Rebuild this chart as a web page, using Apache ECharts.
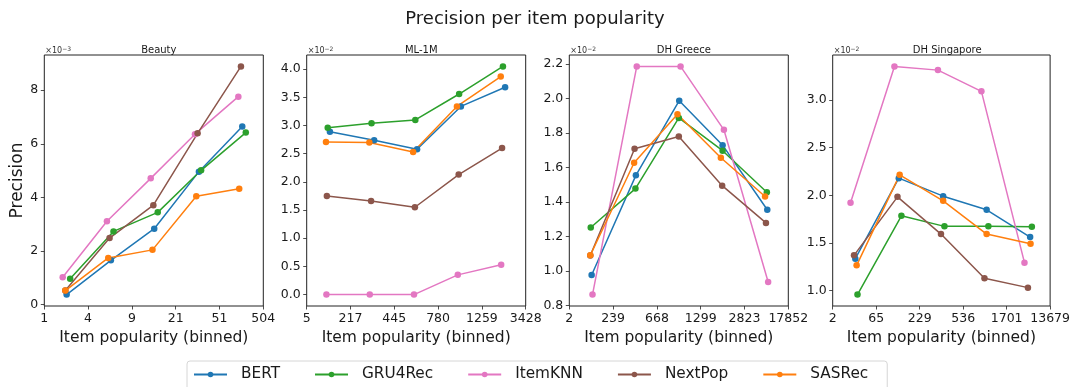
<!DOCTYPE html>
<html>
<head>
<meta charset="utf-8">
<title>Precision per item popularity</title>
<script src="https://cdn.jsdelivr.net/npm/echarts@6/dist/echarts.min.js"></script>
<style>
  html, body { margin: 0; padding: 0; background: #fff; }
  #chart { width: 1073px; height: 387px; }
</style>
</head>
<body>
<div id="chart"></div>
<script>
// Models, in legend order
const models = ['BERT', 'GRU4Rec', 'ItemKNN', 'NextPop', 'SASRec'];
const modelColors = ['#1f77b4', '#2ca02c', '#e377c2', '#8c564b', '#ff7f0e'];

// Dataset panels
const datasets = ['Beauty', 'ML-1M', 'DH Greece', 'DH Singapore'];
const exponents = [-3, -2, -2, -2];

// Bin edge labels on the x axis (one per bin boundary)
const binLabelsBeauty = ['1', '4', '9', '21', '51', '504'];
const binLabelsML1M = ['5', '217', '445', '780', '1259', '3428'];
const binLabelsGreece = ['2', '239', '668', '1299', '2823', '17852'];
const binLabelsSingapore = ['2', '65', '229', '536', '1701', '13679'];

// y tick values (in units of 10^exponent)
const yTicksBeauty = [0, 2, 4, 6, 8];
const yTicksML1M = [0, 0.5, 1, 1.5, 2, 2.5, 3, 3.5, 4];
const yTicksGreece = [0.8, 1.0, 1.2, 1.4, 1.6, 1.8, 2.0, 2.2];
const yTicksSingapore = [1.0, 1.5, 2.0, 2.5, 3.0];
const yDecimals = [0, 1, 1, 1];

// Beauty: bin position (jittered within each bin) and precision (x10^-3)
const beautyX = {
  BERT:    [0.51, 1.52, 2.51, 3.53, 4.52],
  GRU4Rec: [0.59, 1.58, 2.59, 3.58, 4.60],
  ItemKNN: [0.42, 1.43, 2.43, 3.44, 4.43],
  NextPop: [0.48, 1.49, 2.49, 3.50, 4.49],
  SASRec:  [0.48, 1.46, 2.47, 3.47, 4.45]
};
const beautyY = {
  BERT:    [0.37, 1.65, 2.83, 4.96, 6.65],
  GRU4Rec: [0.96, 2.73, 3.44, 5.01, 6.42],
  ItemKNN: [1.02, 3.11, 4.71, 6.36, 7.76],
  NextPop: [0.52, 2.48, 3.71, 6.39, 8.89],
  SASRec:  [0.52, 1.74, 2.04, 4.04, 4.32]
};

// ML-1M (x10^-2)
const ml1mX = {
  BERT:    [0.53, 1.54, 2.52, 3.52, 4.53],
  GRU4Rec: [0.48, 1.48, 2.48, 3.48, 4.48],
  ItemKNN: [0.45, 1.44, 2.45, 3.45, 4.44],
  NextPop: [0.46, 1.47, 2.47, 3.47, 4.46],
  SASRec:  [0.44, 1.43, 2.43, 3.43, 4.43]
};
const ml1mY = {
  BERT:    [2.89, 2.74, 2.58, 3.34, 3.68],
  GRU4Rec: [2.96, 3.04, 3.10, 3.56, 4.05],
  ItemKNN: [0.00, 0.00, 0.00, 0.35, 0.53],
  NextPop: [1.75, 1.66, 1.55, 2.13, 2.60],
  SASRec:  [2.71, 2.70, 2.53, 3.34, 3.87]
};

// DH Greece (x10^-2)
const greeceX = {
  BERT:    [0.51, 1.52, 2.51, 3.50, 4.52],
  GRU4Rec: [0.49, 1.51, 2.50, 3.50, 4.51],
  ItemKNN: [0.53, 1.54, 2.54, 3.53, 4.54],
  NextPop: [0.48, 1.49, 2.50, 3.49, 4.49],
  SASRec:  [0.48, 1.48, 2.47, 3.46, 4.47]
};
const greeceY = {
  BERT:    [0.977, 1.555, 1.988, 1.730, 1.355],
  GRU4Rec: [1.252, 1.478, 1.888, 1.698, 1.457],
  ItemKNN: [0.863, 2.187, 2.187, 1.819, 0.936],
  NextPop: [1.090, 1.709, 1.780, 1.495, 1.279],
  SASRec:  [1.091, 1.628, 1.909, 1.657, 1.432]
};

// DH Singapore (x10^-2)
const singaporeX = {
  BERT:    [0.52, 1.52, 2.54, 3.54, 4.54],
  GRU4Rec: [0.57, 1.58, 2.57, 3.58, 4.58],
  ItemKNN: [0.41, 1.42, 2.42, 3.42, 4.41],
  NextPop: [0.49, 1.49, 2.49, 3.49, 4.49],
  SASRec:  [0.55, 1.54, 2.54, 3.54, 4.55]
};
const singaporeY = {
  BERT:    [1.335, 2.180, 1.991, 1.848, 1.562],
  GRU4Rec: [0.958, 1.785, 1.674, 1.674, 1.670],
  ItemKNN: [1.921, 3.353, 3.314, 3.091, 1.293],
  NextPop: [1.370, 1.984, 1.593, 1.129, 1.031],
  SASRec:  [1.265, 2.215, 1.942, 1.593, 1.492]
};

const panelX = [beautyX, ml1mX, greeceX, singaporeX];
const panelY = [beautyY, ml1mY, greeceY, singaporeY];
const panelBinLabels = [binLabelsBeauty, binLabelsML1M, binLabelsGreece, binLabelsSingapore];
const panelYTicks = [yTicksBeauty, yTicksML1M, yTicksGreece, yTicksSingapore];

// ---- layout ----
const FONT = 'DejaVu Sans';
const INK = '#1a1a1a';
const gridLefts = [44.3, 306.7, 569.3, 832.7];
const gridTop = 55;
const gridW = 219;
const gridH = 251;

const chart = echarts.init(document.getElementById('chart'), null, { renderer: 'canvas' });

const grids = [], xAxes = [], yAxes = [], series = [];
const titles = [{
  text: 'Precision per item popularity',
  left: 530, top: 5, textAlign: 'center',
  textStyle: { fontFamily: FONT, fontSize: 18, fontWeight: 'normal', color: INK }
}];

datasets.forEach((name, p) => {
  grids.push({
    left: gridLefts[p], top: gridTop, width: gridW, height: gridH,
    show: true, borderColor: '#222', borderWidth: 1, backgroundColor: 'transparent'
  });

  // autoscaled y range with a 5% margin on each side of the data
  const all = models.flatMap(m => panelY[p][m]);
  const lo = Math.min(...all), hi = Math.max(...all), pad = (hi - lo) * 0.05;

  const labels = panelBinLabels[p];
  xAxes.push({
    gridIndex: p, type: 'value', min: 0, max: 5, interval: 1,
    name: 'Item popularity (binned)', nameLocation: 'middle', nameGap: 21,
    nameTextStyle: { fontFamily: FONT, fontSize: 15.5, color: INK },
    axisLine: { show: false, onZero: false },
    splitLine: { show: false },
    axisTick: { show: true, inside: false, length: 3.5,
      lineStyle: { color: '#222', width: 0.8 } },
    axisLabel: { margin: 6, showMinLabel: true, showMaxLabel: true,
      fontFamily: FONT, fontSize: 12.5, color: INK,
      formatter: v => labels[Math.round(v)] }
  });

  const dec = yDecimals[p];
  yAxes.push({
    gridIndex: p, type: 'value', min: lo - pad, max: hi + pad,
    name: p === 0 ? 'Precision' : '', nameLocation: 'middle', nameGap: 17,
    nameTextStyle: { fontFamily: FONT, fontSize: 17, color: INK },
    axisLine: { show: false, onZero: false },
    splitLine: { show: false },
    axisTick: { show: true, inside: false, length: 3.5, customValues: panelYTicks[p],
      lineStyle: { color: '#222', width: 0.8 } },
    axisLabel: { customValues: panelYTicks[p], margin: 6,
      fontFamily: FONT, fontSize: 12.5, color: INK,
      formatter: v => v.toFixed(dec) }
  });

  const cx = gridLefts[p] + gridW / 2;
  titles.push({
    text: name, left: cx, top: 40, textAlign: 'center',
    textStyle: { fontFamily: FONT, fontSize: 10, fontWeight: 'normal', color: INK }
  });
  titles.push({
    text: '{a|×10}{b|−' + Math.abs(exponents[p]) + '}',
    left: gridLefts[p] - 4, top: 41,
    textStyle: { fontWeight: 'normal', rich: {
      a: { fontFamily: FONT, fontSize: 8, fontWeight: 'normal', color: '#333' },
      b: { fontFamily: FONT, fontSize: 6, fontWeight: 'normal', color: '#333',
           verticalAlign: 'top', padding: [0, 0, 4, 0] }
    } }
  });

  models.forEach((m, k) => {
    series.push({
      name: m, type: 'line', xAxisIndex: p, yAxisIndex: p,
      data: panelX[p][m].map((x, i) => [x, panelY[p][m][i]]),
      symbol: 'circle', symbolSize: 6.5, showSymbol: true,
      lineStyle: { color: modelColors[k], width: 1.5 },
      itemStyle: { color: modelColors[k] },
      emphasis: { disabled: true },
      animation: false
    });
  });
});

chart.setOption({
  animation: false,
  backgroundColor: '#fff',
  color: modelColors,
  title: titles,
  grid: grids,
  xAxis: xAxes,
  yAxis: yAxes,
  legend: {
    data: models,
    left: 187, top: 361,
    orient: 'horizontal',
    padding: [6, 19, 10, 6],
    itemWidth: 33, itemHeight: 7, itemGap: 34,
    borderColor: '#d6d6d6', borderWidth: 1, borderRadius: 3,
    textStyle: { fontFamily: FONT, fontSize: 15.3, color: INK, padding: [0, 0, 0, 9] }
  },
  series: series
});
</script>
</body>
</html>
